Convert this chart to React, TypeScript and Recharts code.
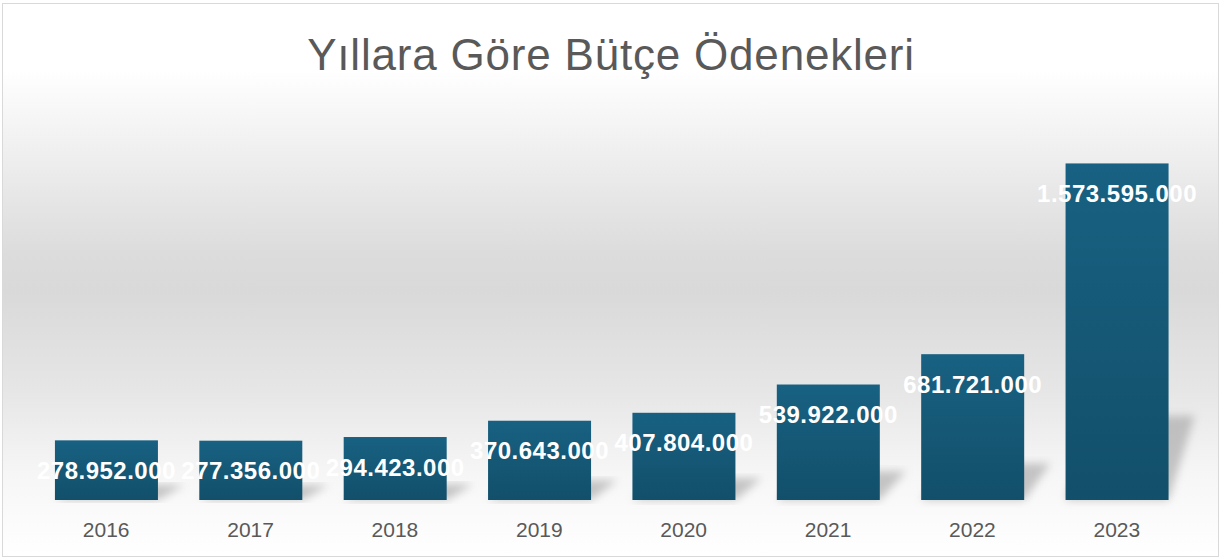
import { BarChart, Bar, XAxis, YAxis, LabelList } from 'recharts'

// veriler
const years = ['2016', '2017', '2018', '2019', '2020', '2021', '2022', '2023']
const appropriations = [
  278952000, 277356000, 294423000, 370643000, 407804000, 539922000, 681721000, 1573595000,
]
const yMax = 1800000000

const data = years.map((year, i) => ({ year, value: appropriations[i] }))

const fmt = (v: number) => v.toLocaleString('de-DE')

// bar + perspektif gölge
function ShadowBar(props: any) {
  const { x, y, width, height, fill } = props
  if (!height || height <= 0) return null
  const base = y + height
  const dx = 26
  const rise = height * 0.25
  const pts = [
    [x, base],
    [x + width, base],
    [x + width + dx, base - rise],
    [x + dx, base - rise],
  ]
    .map((p) => p.join(','))
    .join(' ')
  return (
    <g>
      <polygon points={pts} fill="#9a9a9a" opacity={0.55} filter="url(#barShadowBlur)" />
      <rect x={x} y={y} width={width} height={height} fill={fill} />
    </g>
  )
}

function ValueLabel(props: any) {
  const { x, y, width, value } = props
  return (
    <text
      x={x + width / 2}
      y={y + 30}
      textAnchor="middle"
      dominantBaseline="central"
      fill="#ffffff"
      fontWeight="bold"
      fontSize={24}
      fontFamily="'Liberation Sans', Arial, sans-serif"
      letterSpacing={0.5}
    >
      {fmt(value)}
    </text>
  )
}

export default function App() {
  return (
    <div style={{ position: 'absolute', left: 0, top: 0, width: 1227, height: 559 }}>
      <div
        style={{
          position: 'absolute',
          left: 2,
          top: 3,
          width: 1215,
          height: 552,
          border: '1px solid #d9d9d9',
          background:
            'linear-gradient(to bottom, #ffffff 0%, #ffffff 12%, #f1f1f1 25%, #dcdcdc 45%, #d9d9d9 52%, #e6e6e6 70%, #f6f6f6 85%, #ffffff 100%)',
        }}
      />
      <div
        style={{
          position: 'absolute',
          left: 0,
          top: 28,
          width: 1222,
          textAlign: 'center',
          fontFamily: "'Liberation Sans', Arial, sans-serif",
          fontSize: 44,
          letterSpacing: 0.8,
          color: '#595959',
          lineHeight: '54px',
        }}
      >
        Yıllara Göre Bütçe Ödenekleri
      </div>
      <div style={{ position: 'absolute', left: 0, top: 0 }}>
        <BarChart
          width={1227}
          height={559}
          data={data}
          margin={{ top: 115, right: 38, bottom: 0, left: 34 }}
          barCategoryGap="14.5%"
        >
          <defs>
            <linearGradient id="barFill" x1="0" y1="0" x2="0" y2="1">
              <stop offset="0%" stopColor="#186182" />
              <stop offset="100%" stopColor="#124f6a" />
            </linearGradient>
            <filter id="barShadowBlur" x="-20%" y="-20%" width="140%" height="140%">
              <feGaussianBlur stdDeviation="4" />
            </filter>
          </defs>
          <XAxis
            dataKey="year"
            axisLine={false}
            tickLine={false}
            tickSize={0}
            tickMargin={22}
            height={59}
            tick={{ fill: '#595959', fontSize: 21, fontFamily: "'Liberation Sans', Arial, sans-serif" }}
            interval={0}
          />
          <YAxis hide domain={[0, yMax]} />
          <Bar
            dataKey="value"
            fill="url(#barFill)"
            shape={<ShadowBar />}
            isAnimationActive={false}
          >
            <LabelList dataKey="value" content={<ValueLabel />} />
          </Bar>
        </BarChart>
      </div>
    </div>
  )
}
